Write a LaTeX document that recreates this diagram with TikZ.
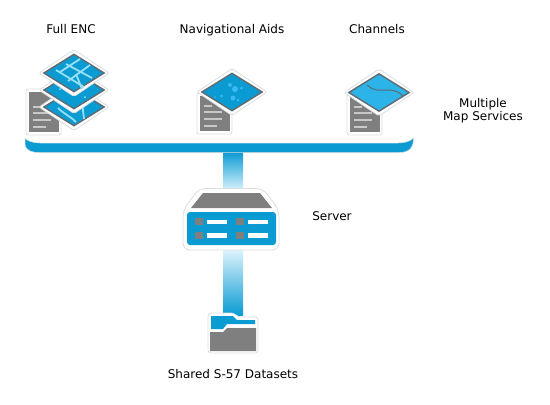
\documentclass[tikz,border=0pt]{standalone}
\usepackage{fontspec}
\setmainfont{DejaVu Sans}
\usetikzlibrary{positioning}

\definecolor{mapblue}{HTML}{0A9BD3}
\definecolor{paleblue}{HTML}{E2F6FE}
\definecolor{roadblue}{HTML}{96E0F8}
\definecolor{seablue}{HTML}{2CB4E8}
\definecolor{dotblue}{HTML}{3ABBEE}
\definecolor{iconedge}{HTML}{D9DEE0}
\definecolor{icongray}{HTML}{7F7F7F}
\definecolor{linegray}{HTML}{C8C8C8}
\definecolor{rimgray}{HTML}{5F6B72}

\tikzset{
  lbl/.style={font=\fontsize{12pt}{13pt}\selectfont, align=center, text=black, inner sep=0pt},
  lblone/.style={lbl, text height=9pt, text depth=2.5pt},
  halo/.style={fill=white, draw=iconedge, line width=0.8pt, line join=round, rounded corners=2pt},
  docicon/.pic={
    \path[halo] (0,0) rectangle (35,-#1);
    \fill[icongray] (2.5,-3) rectangle (32.5,-#1+3);
    \foreach \yy/\xx in {28/8, 22/18, 15/18, 8/13}
      \fill[linegray] (7,-\yy-0.8) rectangle (7+\xx,-\yy+0.8);
  },
  maplayer/.pic={
    \path[halo] (-35,0) -- (0,-23.5) -- (35,0) -- (0,23.5) -- cycle;
    \fill[rimgray] (-31.5,0) -- (0,-19.5) -- (31.5,0) -- (0,19.5) -- cycle;
    \fill[#1] (-28.5,0) -- (0,-17.7) -- (28.5,0) -- (0,17.7) -- cycle;
  },
}

\begin{document}
\begin{tikzpicture}[x=1pt,y=-1pt,node distance=145pt,on grid]
\useasboundingbox (0,0) rectangle (550,405);

% labels
\node[lblone] (q_nav) at (232,30.5) {Navigational Aids};
\node[lblone] (q_enc) [left=161pt of q_nav] {Full ENC};
\node[lblone] (q_chan) [right=of q_nav] {Channels};
\node[lbl] (q_multi) at (483,110.5) {Multiple\\Map Services};
\node[lblone] (q_server) at (332,217) {Server};
\node[lblone] (q_shared) at (233,375) {Shared S-57 Datasets};

% ends of the two bars
\coordinate (bus_l) at (223,152);
\coordinate (server_r) at (243,192);
\coordinate (server_l) at (223,248);
\coordinate (folder_r) at (243,315);

\shade[top color=mapblue, bottom color=paleblue] (bus_l) rectangle (server_r);
\shade[top color=paleblue, bottom color=mapblue] (server_l) rectangle (folder_r);

% bus
\path[fill=mapblue, draw=iconedge, line width=0.5pt]
  (25,138) -- (25,144) .. controls (25,149) and (30,152.5) .. (39,152.5)
  -- (399,152.5) .. controls (408,152.5) and (413.5,149) .. (413.5,138)
  .. controls (411,141) and (405,143) .. (398,143)
  -- (40,143) .. controls (33,143) and (27,141) .. cycle;

% full enc
\pic at (26,135) {docicon=46};
\pic at (74,107) {maplayer=mapblue};
\draw[roadblue, line width=1.8pt] (58,108) .. controls (64,114) and (70,116) .. (76,122);
\draw[roadblue, line width=1.8pt] (82,102) -- (84,119);
\pic at (74,90) {maplayer=mapblue};
\fill[roadblue] (60,89) circle (1pt) (85,97) circle (1pt);
\pic at (74,73) {maplayer=mapblue};
\begin{scope}[roadblue, line width=1.8pt]
  \draw (56,70) -- (84,87);
  \draw (66,64) -- (92,78);
  \draw (68,81) -- (90,65);
  \draw (80,59) -- (60,72);
  \draw (76,74) -- (82,89);
\end{scope}

% navigational aids
\pic at (197,134) {docicon=41};
\pic at (232,92) {maplayer=mapblue};
\foreach \xx/\yy/\rr in {230/85/2,235/89/3,241.5/88/1.5,221.5/96/1.5,215/97/1,233/98/2.5,238/100/1.5}
  \fill[dotblue] (\xx,\yy) circle (\rr pt);

% channels
\pic at (347,135) {docicon=41};
\pic at (379,92.5) {maplayer=seablue};
\draw[rimgray, line width=1pt]
  (367,85) .. controls (375,92) and (380,90) .. (388,90) .. controls (395,90) and (399,92) .. (403,96);

% server
\path[halo, rounded corners=7pt] (199,188.5) -- (263,188.5) -- (279,210) -- (279,250) -- (183,250) -- (183,210) -- cycle;
\fill[icongray] (203,193) -- (260,193) -- (272,208) -- (191,208) -- cycle;
\fill[mapblue, rounded corners=3pt] (187,212) rectangle (276,245);
\foreach \xx in {0,41} {
  \fill[icongray] (195+\xx,218) rectangle (203+\xx,225);
  \fill[icongray] (195+\xx,232) rectangle (203+\xx,239);
  \fill[white] (207+\xx,219.5) rectangle (227+\xx,224);
  \fill[white] (207+\xx,233) rectangle (227+\xx,237.5);
}

% folder
\path[halo, rounded corners=3pt] (208,313) -- (234,313) -- (238,317) -- (258,317) -- (258,353) -- (208,353) -- cycle;
\fill[mapblue] (211,316) -- (233,316) -- (237,320) -- (255,320) -- (255,324) -- (227,324) -- (223,329) -- (211,329) -- cycle;
\fill[icongray] (210,332) -- (223,332) -- (227,328) -- (256,328) -- (256,351) -- (210,351) -- cycle;
\end{tikzpicture}
\end{document}
